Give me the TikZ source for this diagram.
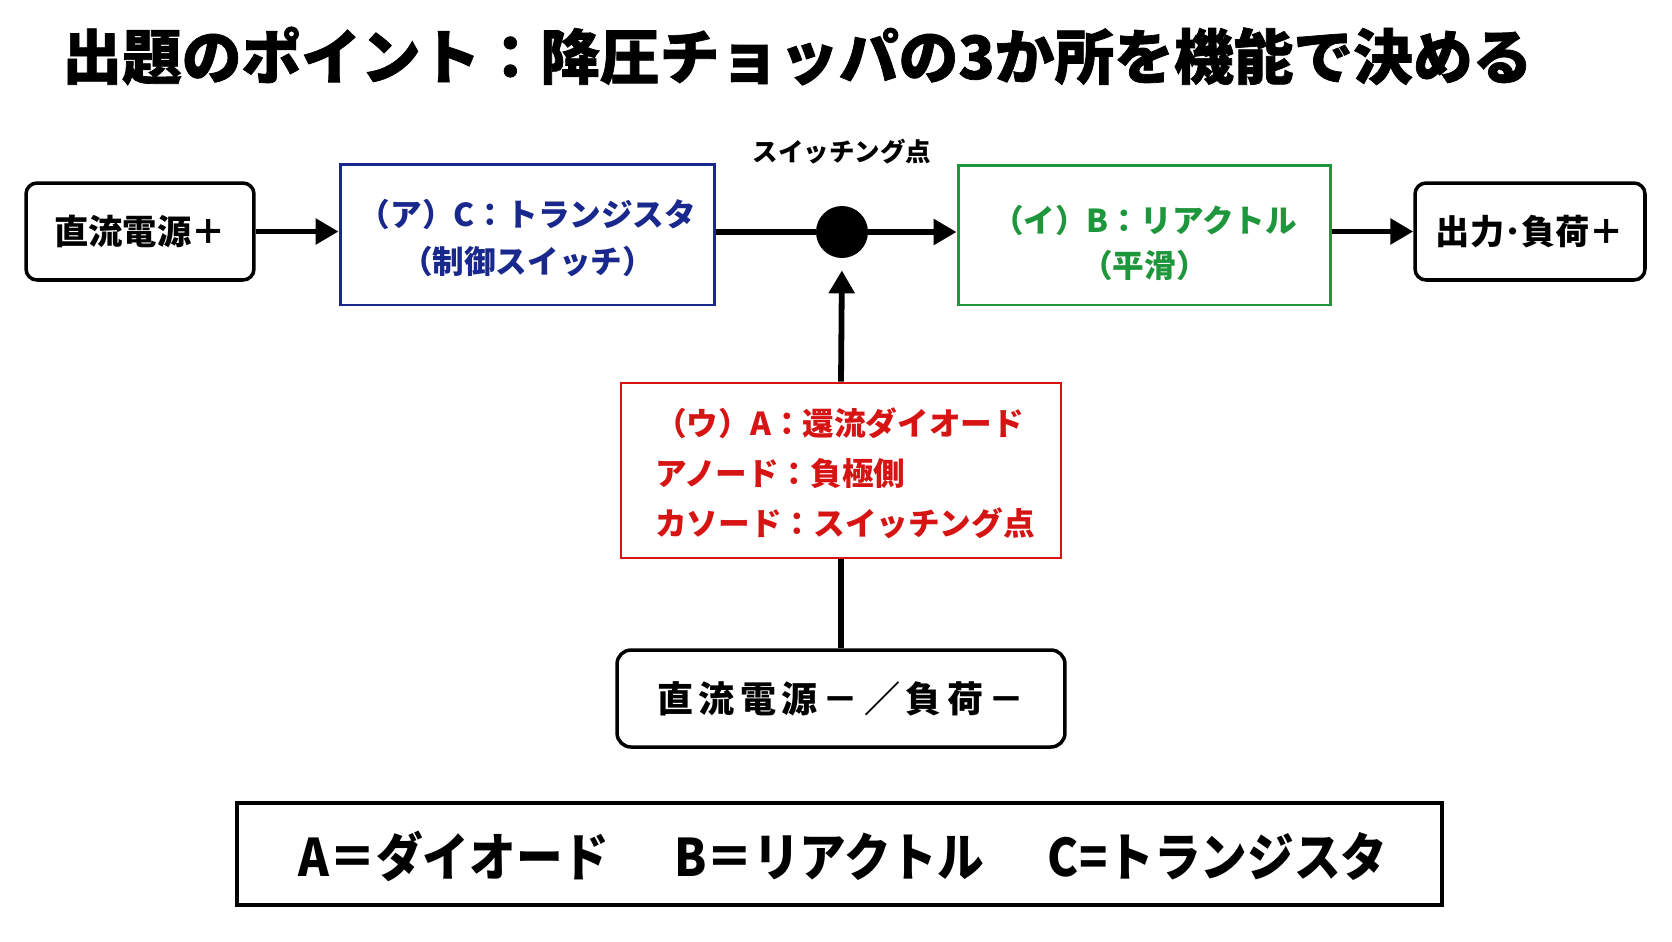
\documentclass[tikz,border=0pt]{standalone}
\usepackage{fontspec}
\usepackage{graphicx}
\setmainfont{Noto Sans CJK JP}
\newfontfamily\titlefont{Noto Sans CJK JP}[BoldFeatures={FakeBold=1.2}]
\usetikzlibrary{arrows.meta}
\definecolor{cblue}{RGB}{25,40,140}
\definecolor{cgreen}{RGB}{30,150,60}
\definecolor{cred}{RGB}{215,20,20}
\newcommand{\gk}{\kern0.15em}
\tikzset{
  conn/.style={line width=3.3pt},
  arr/.style={conn,-{Triangle[length=0.46cm,width=0.5cm]}},
  rbox/.style={draw=black,line width=2pt,rounded corners=0.22cm,inner sep=0pt,
    font=\fontsize{19.5}{23}\selectfont\bfseries},
  cbox/.style={draw=#1,text=#1,line width=1.7pt,inner sep=0pt,align=center,
    font=\fontsize{18}{26.5}\selectfont\bfseries},
}
\begin{document}
\begin{tikzpicture}[x=0.02cm,y=-0.02cm]
\useasboundingbox[fill=white] (0,0) rectangle (1672,941);
% title
\node[anchor=west,inner sep=0pt,font=\fontsize{34}{40}\selectfont\titlefont\bfseries] (title) at (62,56) {出題のポイント：降圧チョッパの3か所を機能で決める};
% top row
\node[rbox,minimum width=4.56cm,minimum height=1.94cm] (src) at (140,231.5) {直流電源＋};
\node[draw=cblue,line width=1.7pt,minimum width=7.5cm,minimum height=2.82cm,inner sep=0pt] (sw) at (527.5,234.5) {};
\node[cbox=cblue,draw=none,font=\fontsize{18}{26.8}\selectfont\bfseries] (swtext) at (527.5,238) {（ア）C：トランジスタ\\（制御スイッチ）};
\node[circle,fill=black,minimum size=1.04cm,inner sep=0pt] (pt) at (842,232) {};
\node[inner sep=0pt,font=\fontsize{14.5}{17}\selectfont\bfseries] (ptlabel) at (842,152) {スイッチング点};
\node[draw=cgreen,line width=1.7pt,minimum width=7.46cm,minimum height=2.8cm,inner sep=0pt] (rx) at (1144.5,235) {};
\node[cbox=cgreen,draw=none,font=\fontsize{18}{25.2}\selectfont\bfseries] (rxtext) at (1144.5,243) {（イ）B：リアクトル\\（平滑）};
\node[rbox,minimum width=4.6cm,minimum height=1.94cm] (out) at (1530,231.5) {出力･負荷＋};
% diode box
\node[draw=cred,text=cred,line width=1.6pt,inner sep=0pt,align=left,
  minimum width=8.8cm,minimum height=3.5cm,
  font=\fontsize{18}{28.4}\selectfont\bfseries] (diode) at (841,470.5) {};
\node[text=cred,inner sep=0pt,align=left,
  font=\fontsize{18}{28.4}\selectfont\bfseries] (diodetext) at (845,473.5)
  {（ウ）A：還流ダイオード\\アノード：負極側\\カソード：スイッチング点};
% ground box
\node[rbox,rounded corners=0.28cm,minimum width=8.96cm,minimum height=1.94cm,
  font=\fontsize{20.5}{24}\selectfont\bfseries] (gnd) at (841,698.5)
  {直\gk 流\gk 電\gk 源\gk －\gk ／\gk 負\gk 荷\gk －};
% legend
\node[draw=black,line width=2pt,minimum width=24.1cm,minimum height=2.04cm,inner sep=0pt] (legend) at (839.5,854) {};
\node[inner sep=0pt,font=\fontsize{29.5}{34}\selectfont\bfseries] (legtext) at (843,856)
  {\scalebox{0.9}[1]{A＝ダイオード\hspace{1.44cm}B＝リアクトル\hspace{1.42cm}C=トランジスタ}};
% connectors
\draw[arr] (src.east) -- (src.east -| sw.west);
\draw[conn] (sw.east |- pt) -- (pt);
\draw[arr] (pt.east) -- (pt -| rx.west);
\draw[arr] (rx.east |- out) -- (out.west);
\draw[arr,shorten >=0.24cm] (diode.north) -- (pt.south);
\draw[conn] (gnd.north) -- (diode.south);
\end{tikzpicture}
\end{document}
